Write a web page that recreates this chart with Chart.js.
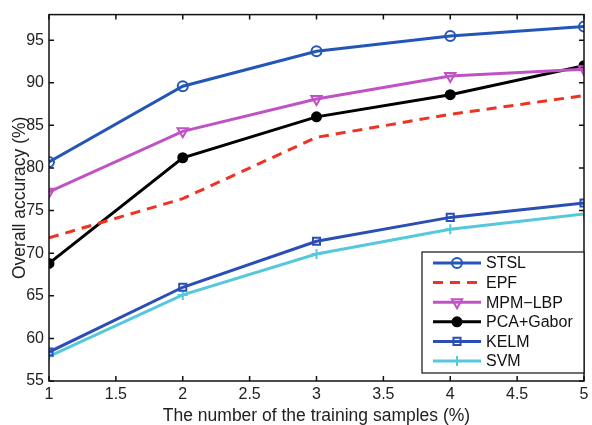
<!DOCTYPE html>
<html lang="en">
<head>
    <meta charset="UTF-8">
    <title>Overall accuracy</title>
    <script src="https://cdn.jsdelivr.net/npm/chart.js"></script>
    <style>
        body { margin: 0; background: #fff; }
        #wrap { width: 592px; height: 425px; }
    </style>
</head>
<body>
    <div id="wrap"><canvas id="myChart"></canvas></div>

    <script>
        // Data
        const samples = [1, 2, 3, 4, 5];
        const stsl = [80.7, 89.6, 93.7, 95.5, 96.6];
        const epf = [71.8, 76.4, 83.6, 86.3, 88.5];
        const mpmLbp = [77.2, 84.3, 88.1, 90.8, 91.6];
        const pcaGabor = [68.8, 81.2, 86.0, 88.6, 92.0];
        const kelm = [58.4, 66.0, 71.4, 74.2, 75.9];
        const svm = [57.9, 65.1, 69.9, 72.8, 74.6];

        const xTicks = [1, 1.5, 2, 2.5, 3, 3.5, 4, 4.5, 5];
        const yTicks = [55, 60, 65, 70, 75, 80, 85, 90, 95];

        const FONT = "'Liberation Sans', Arial, sans-serif";

        function toPoints(values) {
            return values.map((v, i) => ({x: samples[i], y: v}));
        }

        const series = [
            {label: 'STSL', values: stsl, color: '#2456b8', style: 'circle', radius: 5, fill: 'rgba(0,0,0,0)', dash: []},
            {label: 'EPF', values: epf, color: '#ee3322', style: false, radius: 0, fill: '#ee3322', dash: [10, 7]},
            {label: 'MPM\u2212LBP', values: mpmLbp, color: '#c052c4', style: 'triangle', radius: 6, rotation: 180, fill: 'rgba(0,0,0,0)', dash: []},
            {label: 'PCA+Gabor', values: pcaGabor, color: '#000000', style: 'circle', radius: 4.5, fill: '#000000', dash: []},
            {label: 'KELM', values: kelm, color: '#2a4eb4', style: 'rect', radius: 5, fill: 'rgba(0,0,0,0)', dash: []},
            {label: 'SVM', values: svm, color: '#55c8dc', style: 'cross', radius: 5, fill: '#55c8dc', dash: []}
        ];

        // frame, inward ticks and legend box
        const framePlugin = {
            id: 'frame',
            afterDatasetsDraw(chart) {
                const {ctx, chartArea: a, scales} = chart;
                ctx.save();
                ctx.strokeStyle = '#111';
                ctx.lineWidth = 1.5;
                ctx.strokeRect(a.left, a.top, a.right - a.left, a.bottom - a.top);
                const len = 5;
                ctx.beginPath();
                scales.x.ticks.forEach(t => {
                    const px = scales.x.getPixelForValue(t.value);
                    ctx.moveTo(px, a.bottom); ctx.lineTo(px, a.bottom - len);
                    ctx.moveTo(px, a.top); ctx.lineTo(px, a.top + len);
                });
                scales.y.ticks.forEach(t => {
                    const py = scales.y.getPixelForValue(t.value);
                    ctx.moveTo(a.left, py); ctx.lineTo(a.left + len, py);
                    ctx.moveTo(a.right, py); ctx.lineTo(a.right - len, py);
                });
                ctx.stroke();

                // legend
                const boxW = 162, boxH = 121;
                const bx = a.right - boxW, by = a.bottom - 8 - boxH;
                ctx.fillStyle = '#fff';
                ctx.fillRect(bx, by, boxW, boxH);
                ctx.lineWidth = 1.2;
                ctx.strokeRect(bx, by, boxW, boxH);
                ctx.font = '16px ' + FONT;
                ctx.textBaseline = 'middle';
                series.forEach((s, i) => {
                    const y = by + 11 + i * 19.6;
                    ctx.strokeStyle = s.color;
                    ctx.lineWidth = 3;
                    ctx.setLineDash(s.dash);
                    ctx.beginPath();
                    ctx.moveTo(bx + 11, y);
                    ctx.lineTo(bx + 59, y);
                    ctx.stroke();
                    ctx.setLineDash([]);
                    if (s.style) {
                        ctx.fillStyle = s.fill;
                        ctx.lineWidth = 2;
                        Chart.helpers.drawPoint(ctx, {
                            pointStyle: s.style,
                            radius: s.radius,
                            rotation: s.rotation || 0,
                            borderWidth: 2
                        }, bx + 35, y);
                    }
                    ctx.fillStyle = '#111';
                    ctx.fillText(s.label, bx + 64, y + 1);
                });
                ctx.restore();
            }
        };

        const ctx = document.getElementById('myChart').getContext('2d');

        new Chart(ctx, {
            type: 'scatter',
            data: {
                datasets: series.map(s => ({
                    label: s.label,
                    data: toPoints(s.values),
                    showLine: true,
                    borderColor: s.color,
                    borderWidth: 3,
                    borderDash: s.dash,
                    pointStyle: s.style,
                    pointRadius: s.radius,
                    pointRotation: s.rotation || 0,
                    pointBorderWidth: 2,
                    pointBorderColor: s.color,
                    pointBackgroundColor: s.fill,
                    tension: 0
                }))
            },
            options: {
                responsive: true,
                maintainAspectRatio: false,
                animation: false,
                layout: {padding: {left: 0, right: 6, top: 11, bottom: 0}},
                plugins: {
                    legend: {display: false},
                    tooltip: {enabled: false}
                },
                scales: {
                    x: {
                        type: 'linear',
                        min: 1,
                        max: 5,
                        afterBuildTicks: scale => { scale.ticks = xTicks.map(v => ({value: v})); },
                        afterFit: scale => {
                            scale.height = 44;
                            scale.paddingLeft = 0;
                            scale.paddingRight = 0;
                        },
                        grid: {display: false, drawTicks: false},
                        border: {display: false},
                        ticks: {
                            padding: 4,
                            color: '#222',
                            font: {family: FONT, size: 16},
                            callback: v => String(v)
                        },
                        title: {
                            display: true,
                            text: 'The number of the training samples (%)',
                            color: '#222',
                            font: {family: FONT, size: 17.5, lineHeight: 1},
                            padding: {top: 0, bottom: 0}
                        }
                    },
                    y: {
                        min: 55,
                        max: 98,
                        afterBuildTicks: scale => { scale.ticks = yTicks.map(v => ({value: v})); },
                        afterFit: scale => { scale.width = 49; },
                        grid: {display: false, drawTicks: false},
                        border: {display: false},
                        ticks: {
                            padding: 5,
                            color: '#222',
                            font: {family: FONT, size: 16}
                        },
                        title: {
                            display: true,
                            text: 'Overall accuracy (%)',
                            color: '#222',
                            font: {family: FONT, size: 17.5, lineHeight: 1},
                            padding: {top: 11, bottom: 0}
                        }
                    }
                }
            },
            plugins: [framePlugin]
        });
    </script>
</body>
</html>
